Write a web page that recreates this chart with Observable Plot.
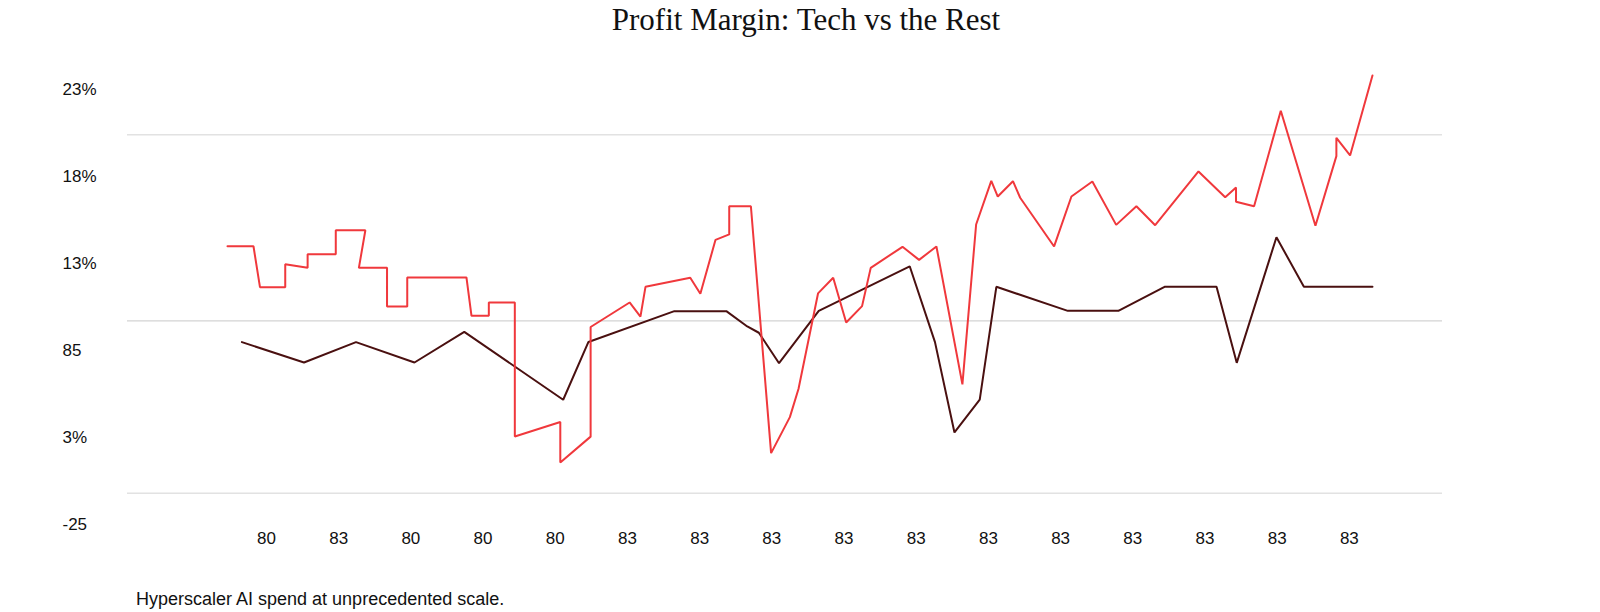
<!DOCTYPE html>
<html>
<head>
<meta charset="utf-8">
<script src="https://cdn.jsdelivr.net/npm/d3@7"></script>
<script src="https://cdn.jsdelivr.net/npm/@observablehq/plot@0.6"></script>
<style>
  html, body { margin: 0; padding: 0; background: #fff; }
  #wrap { position: relative; width: 1600px; height: 612px; overflow: hidden; }
  #title { position: absolute; left: 0; top: 2px; width: 1600px; padding-left: 12px; box-sizing: border-box;
           text-align: center; font-family: "Liberation Serif", "DejaVu Serif", serif; font-size: 31px;
           line-height: 36px; color: #111; }
  #chart { position: absolute; left: 0; top: 52px; }
  #caption { position: absolute; left: 136px; top: 589px; font-family: "Liberation Sans", Arial, sans-serif;
             font-size: 18px; line-height: 20px; color: #111; }
</style>
</head>
<body>
<div id="wrap">
  <div id="title">Profit Margin: Tech vs the Rest</div>
  <div id="chart"></div>
  <div id="caption">Hyperscaler AI spend at unprecedented scale.</div>
</div>
<script>
// ---- data (x in period units, y in percent) ----
const xTickValues = [0, 1, 2, 3, 4, 5, 6, 7, 8, 9, 10, 11, 12, 13, 14, 15];
const xTickLabels = ["80", "83", "80", "80", "80", "83", "83", "83", "83", "83", "83", "83", "83", "83", "83", "83"];
const yTickValues = [23, 18, 13, 8, 3, -2];
const yTickLabels = ["23%", "18%", "13%", "85", "3%", "-25"];
const gridValues = [20.4, 9.7, -0.2];

const techX = [-0.54, -0.18, -0.09, 0.26, 0.26, 0.57, 0.57, 0.96, 0.96, 1.37, 1.28, 1.67, 1.67, 1.95, 1.95, 2.77,
  2.84, 3.08, 3.08, 3.44, 3.44, 4.07, 4.07, 4.49, 4.49, 5.03, 5.18, 5.25, 5.87, 6.01, 6.22, 6.41, 6.41, 6.71,
  6.99, 7.25, 7.37, 7.64, 7.85, 8.03, 8.25, 8.37, 8.81, 9.04, 9.28, 9.64, 9.83, 10.04, 10.13, 10.34, 10.44,
  10.91, 11.15, 11.44, 11.77, 12.05, 12.31, 12.91, 13.28, 13.43, 13.43, 13.68, 14.05, 14.53, 14.82, 14.82,
  15.01, 15.32];
const techY = [13.99, 13.99, 11.64, 11.64, 12.96, 12.75, 13.53, 13.53, 14.91, 14.91, 12.75, 12.75, 10.53, 10.53,
  12.20, 12.20, 9.99, 9.99, 10.76, 10.76, 3.06, 3.89, 1.56, 3.05, 9.35, 10.76, 9.95, 11.66, 12.18, 11.26, 14.36,
  14.67, 16.29, 16.29, 2.10, 4.17, 5.80, 11.28, 12.18, 9.61, 10.55, 12.75, 13.96, 13.21, 13.98, 6.05, 15.24,
  17.75, 16.85, 17.73, 16.78, 13.98, 16.85, 17.71, 15.22, 16.29, 15.20, 18.29, 16.81, 17.37, 16.55, 16.29,
  21.78, 15.17, 19.17, 20.22, 19.21, 23.80];

const restX = [-0.34, 0.52, 1.24, 2.05, 2.74, 4.11, 4.46, 5.65, 6.37, 6.66, 6.82, 7.10, 7.65, 8.91, 9.26, 9.53,
  9.88, 10.11, 11.10, 11.80, 12.44, 13.16, 13.44, 13.99, 14.37, 15.32];
const restY = [8.48, 7.31, 8.48, 7.31, 9.07, 5.17, 8.49, 10.26, 10.26, 9.38, 9.02, 7.27, 10.28, 12.84, 8.48, 3.29,
  5.18, 11.66, 10.28, 10.28, 11.66, 11.66, 7.29, 14.51, 11.66, 11.66];

const tech = techX.map((x, i) => ({x, y: techY[i]}));
const rest = restX.map((x, i) => ({x, y: restY[i]}));
const xLabel = new Map(xTickValues.map((v, i) => [v, xTickLabels[i]]));
const yLabel = new Map(yTickValues.map((v, i) => [v, yTickLabels[i]]));

const chart = Plot.plot({
  width: 1600,
  height: 520,
  marginLeft: 127,
  marginRight: 158,
  marginTop: 19.6,
  marginBottom: 20.16,
  style: {fontFamily: "'Liberation Sans', Arial, sans-serif", fontSize: "17px", color: "#111", background: "#fff"},
  x: {domain: [-1.925, 16.29]},
  y: {domain: [-3.6, 24]},
  marks: [
    Plot.ruleY([gridValues[0], gridValues[2]], {stroke: "#e2e2e2", strokeWidth: 1.6}),
    Plot.ruleY([gridValues[1]], {stroke: "#c8c8c8", strokeWidth: 1}),
    Plot.axisY({ticks: yTickValues, tickFormat: d => yLabel.get(d), tickSize: 0, tickPadding: 0, label: null,
      textAnchor: "start", dx: -65, fill: "#111", fontSize: 17}),
    Plot.axisX({ticks: xTickValues, tickFormat: d => xLabel.get(d), tickSize: 0, tickPadding: 0, label: null,
      lineAnchor: "middle", dy: -14, fill: "#111", fontSize: 17}),
    Plot.line(rest, {x: "x", y: "y", stroke: "#4a1010", strokeWidth: 2, strokeLinejoin: "miter"}),
    Plot.line(tech, {x: "x", y: "y", stroke: "#f0383c", strokeWidth: 2, strokeLinejoin: "miter"})
  ]
});
document.getElementById("chart").appendChild(chart);
</script>
</body>
</html>
